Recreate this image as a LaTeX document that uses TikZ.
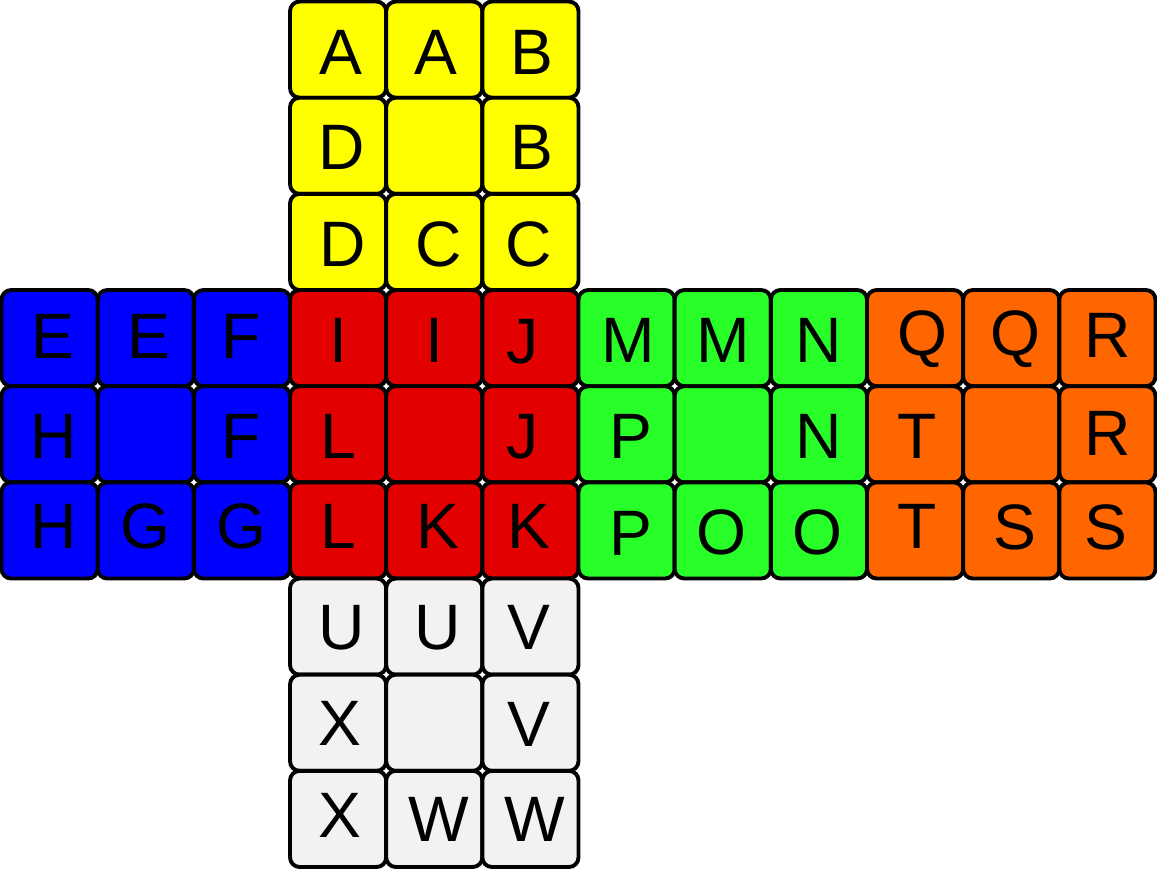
\documentclass[tikz,border=0pt]{standalone}
\usepackage{fontspec}
\setmainfont{Liberation Sans}
\definecolor{faceY}{HTML}{FFFF00}
\definecolor{faceB}{HTML}{0000FF}
\definecolor{faceR}{HTML}{E30000}
\definecolor{faceG}{HTML}{28FF28}
\definecolor{faceO}{HTML}{FF6600}
\definecolor{faceW}{HTML}{F2F2F2}
\begin{document}
\begin{tikzpicture}[
  stk/.style={draw=black,line width=1.15pt,rounded corners=0.1cm,minimum size=1cm,inner sep=0pt},
  lbl/.style={font=\fontsize{19}{19}\selectfont,inner sep=0pt,text height=13.6pt,text depth=0pt}]
\useasboundingbox (-0.016,-0.016) rectangle (12.016,9.016);
\node[stk,fill=faceY] (y1) at (3.5,8.5) {};
\node[stk,fill=faceY] (y2) at (4.5,8.5) {};
\node[stk,fill=faceY] (y3) at (5.5,8.5) {};
\node[stk,fill=faceY] (y4) at (3.5,7.5) {};
\node[stk,fill=faceY] (y5) at (4.5,7.5) {};
\node[stk,fill=faceY] (y6) at (5.5,7.5) {};
\node[stk,fill=faceY] (y7) at (3.5,6.5) {};
\node[stk,fill=faceY] (y8) at (4.5,6.5) {};
\node[stk,fill=faceY] (y9) at (5.5,6.5) {};
\node[lbl] (ly1) at ([shift={(0.03,-0.02)}]y1) {A};
\node[lbl] (ly2) at ([shift={(0.015,-0.02)}]y2) {A};
\node[lbl] (ly3) at ([shift={(0.02,-0.02)}]y3) {B};
\node[lbl] (ly4) at ([shift={(0.04,-0.01)}]y4) {D};
\node[lbl] (ly6) at ([shift={(0.02,-0.01)}]y6) {B};
\node[lbl] (ly7) at ([shift={(0.045,-0.015)}]y7) {D};
\node[lbl] (ly8) at ([shift={(0.043,-0.02)}]y8) {C};
\node[lbl] (ly9) at ([shift={(-0.02,-0.02)}]y9) {C};
\node[stk,fill=faceB] (b1) at (0.5,5.5) {};
\node[stk,fill=faceB] (b2) at (1.5,5.5) {};
\node[stk,fill=faceB] (b3) at (2.5,5.5) {};
\node[stk,fill=faceB] (b4) at (0.5,4.5) {};
\node[stk,fill=faceB] (b5) at (1.5,4.5) {};
\node[stk,fill=faceB] (b6) at (2.5,4.5) {};
\node[stk,fill=faceB] (b7) at (0.5,3.5) {};
\node[stk,fill=faceB] (b8) at (1.5,3.5) {};
\node[stk,fill=faceB] (b9) at (2.5,3.5) {};
\node[lbl] (lb1) at ([shift={(0.03,0.03)}]b1) {E};
\node[lbl] (lb2) at ([shift={(0.03,0.03)}]b2) {E};
\node[lbl] (lb3) at ([shift={(-0.01,0.03)}]b3) {F};
\node[lbl] (lb4) at ([shift={(0.04,-0.01)}]b4) {H};
\node[lbl] (lb6) at ([shift={(-0.01,-0.01)}]b6) {F};
\node[lbl] (lb7) at ([shift={(0.04,0.05)}]b7) {H};
\node[lbl] (lb8) at ([shift={(0,0.05)}]b8) {G};
\node[lbl] (lb9) at ([shift={(0,0.05)}]b9) {G};
\node[stk,fill=faceR] (r1) at (3.5,5.5) {};
\node[stk,fill=faceR] (r2) at (4.5,5.5) {};
\node[stk,fill=faceR] (r3) at (5.5,5.5) {};
\node[stk,fill=faceR] (r4) at (3.5,4.5) {};
\node[stk,fill=faceR] (r5) at (4.5,4.5) {};
\node[stk,fill=faceR] (r6) at (5.5,4.5) {};
\node[stk,fill=faceR] (r7) at (3.5,3.5) {};
\node[stk,fill=faceR] (r8) at (4.5,3.5) {};
\node[stk,fill=faceR] (r9) at (5.5,3.5) {};
\node[lbl] (lr1) at ([shift={(0,-0.016)}]r1) {I};
\node[lbl] (lr2) at ([shift={(0,-0.016)}]r2) {I};
\node[lbl] (lr3) at ([shift={(-0.08,-0.02)}]r3) {J};
\node[lbl] (lr4) at ([shift={(0,-0.01)}]r4) {L};
\node[lbl] (lr6) at ([shift={(-0.08,-0.01)}]r6) {J};
\node[lbl] (lr7) at ([shift={(0,0.05)}]r7) {L};
\node[lbl] (lr8) at ([shift={(0.04,0.05)}]r8) {K};
\node[lbl] (lr9) at ([shift={(-0.02,0.05)}]r9) {K};
\node[stk,fill=faceG] (g1) at (6.5,5.5) {};
\node[stk,fill=faceG] (g2) at (7.5,5.5) {};
\node[stk,fill=faceG] (g3) at (8.5,5.5) {};
\node[stk,fill=faceG] (g4) at (6.5,4.5) {};
\node[stk,fill=faceG] (g5) at (7.5,4.5) {};
\node[stk,fill=faceG] (g6) at (8.5,4.5) {};
\node[stk,fill=faceG] (g7) at (6.5,3.5) {};
\node[stk,fill=faceG] (g8) at (7.5,3.5) {};
\node[stk,fill=faceG] (g9) at (8.5,3.5) {};
\node[lbl] (lg1) at ([shift={(0.015,-0.015)}]g1) {M};
\node[lbl] (lg2) at ([shift={(0.01,-0.015)}]g2) {M};
\node[lbl] (lg3) at ([shift={(0,-0.015)}]g3) {N};
\node[lbl] (lg4) at ([shift={(0.05,-0.01)}]g4) {P};
\node[lbl] (lg6) at ([shift={(0,-0.01)}]g6) {N};
\node[lbl] (lg7) at ([shift={(0.05,-0.02)}]g7) {P};
\node[lbl] (lg8) at ([shift={(-0.01,-0.015)}]g8) {O};
\node[lbl] (lg9) at ([shift={(-0.01,-0.015)}]g9) {O};
\node[stk,fill=faceO] (o1) at (9.5,5.5) {};
\node[stk,fill=faceO] (o2) at (10.5,5.5) {};
\node[stk,fill=faceO] (o3) at (11.5,5.5) {};
\node[stk,fill=faceO] (o4) at (9.5,4.5) {};
\node[stk,fill=faceO] (o5) at (10.5,4.5) {};
\node[stk,fill=faceO] (o6) at (11.5,4.5) {};
\node[stk,fill=faceO] (o7) at (9.5,3.5) {};
\node[stk,fill=faceO] (o8) at (10.5,3.5) {};
\node[stk,fill=faceO] (o9) at (11.5,3.5) {};
\node[lbl] (lo1) at ([shift={(0.08,0.06)}]o1) {Q};
\node[lbl] (lo2) at ([shift={(0.04,0.06)}]o2) {Q};
\node[lbl] (lo3) at ([shift={(0,0.04)}]o3) {R};
\node[lbl] (lo4) at ([shift={(0.02,-0.01)}]o4) {T};
\node[lbl] (lo6) at ([shift={(0,0.02)}]o6) {R};
\node[lbl] (lo7) at ([shift={(0.02,0.05)}]o7) {T};
\node[lbl] (lo8) at ([shift={(0.04,0.04)}]o8) {S};
\node[lbl] (lo9) at ([shift={(-0.02,0.04)}]o9) {S};
\node[stk,fill=faceW] (w1) at (3.5,2.5) {};
\node[stk,fill=faceW] (w2) at (4.5,2.5) {};
\node[stk,fill=faceW] (w3) at (5.5,2.5) {};
\node[stk,fill=faceW] (w4) at (3.5,1.5) {};
\node[stk,fill=faceW] (w5) at (4.5,1.5) {};
\node[stk,fill=faceW] (w6) at (5.5,1.5) {};
\node[stk,fill=faceW] (w7) at (3.5,0.5) {};
\node[stk,fill=faceW] (w8) at (4.5,0.5) {};
\node[stk,fill=faceW] (w9) at (5.5,0.5) {};
\node[lbl] (lw1) at ([shift={(0.04,0)}]w1) {U};
\node[lbl] (lw2) at ([shift={(0.035,0)}]w2) {U};
\node[lbl] (lw3) at ([shift={(-0.015,0)}]w3) {V};
\node[lbl] (lw4) at ([shift={(0.02,0)}]w4) {X};
\node[lbl] (lw6) at ([shift={(-0.015,-0.01)}]w6) {V};
\node[lbl] (lw7) at ([shift={(0.02,0.05)}]w7) {X};
\node[lbl] (lw8) at ([shift={(0.05,0)}]w8) {W};
\node[lbl] (lw9) at ([shift={(0.045,0)}]w9) {W};
\end{tikzpicture}
\end{document}
